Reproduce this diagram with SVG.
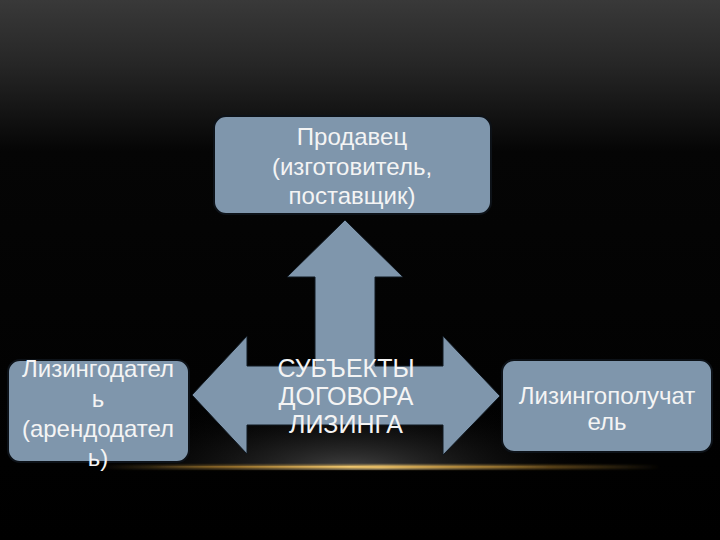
<svg xmlns="http://www.w3.org/2000/svg" width="720" height="540" viewBox="0 0 720 540">
  <defs>
    <linearGradient id="bg" x1="0" y1="0" x2="0" y2="1">
      <stop offset="0" stop-color="#393939"/>
      <stop offset="0.12" stop-color="#262626"/>
      <stop offset="0.28" stop-color="#050505"/>
      <stop offset="1" stop-color="#000"/>
    </linearGradient>
    <radialGradient id="spot" cx="350" cy="470" r="260" gradientUnits="userSpaceOnUse" gradientTransform="translate(350 470) scale(1 0.3) translate(-350 -470)">
      <stop offset="0" stop-color="#444" stop-opacity="1"/>
      <stop offset="1" stop-color="#000" stop-opacity="0"/>
    </radialGradient>
    <linearGradient id="gold" x1="0" y1="0" x2="1" y2="0">
      <stop offset="0" stop-color="#c89a40" stop-opacity="0"/>
      <stop offset="0.2" stop-color="#b8862e" stop-opacity="0.5"/>
      <stop offset="0.5" stop-color="#f0c870" stop-opacity="1"/>
      <stop offset="0.8" stop-color="#b8862e" stop-opacity="0.5"/>
      <stop offset="1" stop-color="#c89a40" stop-opacity="0"/>
    </linearGradient>
    <filter id="blur" x="-10%" y="-200%" width="120%" height="500%">
      <feGaussianBlur stdDeviation="1.2"/>
    </filter>
  </defs>
  <style>
    .box { fill: #7f96ac; stroke: #0d1218; stroke-width: 2; }
    .arrow { fill: #7f96ac; stroke: #101820; stroke-width: 1; }
    .t { font-family: "Liberation Sans", Arial, sans-serif; font-size: 24px; fill: #f4f4f4; text-anchor: middle; }
    .c { font-size: 25px; }
  </style>
  <rect width="720" height="540" fill="url(#bg)"/>
  <rect x="60" y="380" width="600" height="90" fill="url(#spot)"/>
  <rect x="100" y="465" width="560" height="4" fill="url(#gold)" filter="url(#blur)"/>
  <rect x="150" y="466" width="400" height="1.5" fill="url(#gold)"/>

  <g id="connectors">
    <polygon class="arrow" points="192,395 247,336 247,366 315,366 315,277 287,277 345,220 403,277 375,277 375,366 443,366 443,336 500,396 443,455 443,425 247,425 247,454"/>
  </g>

  <g id="center-label">
    <text class="t c" x="346" y="377">СУБЪЕКТЫ</text>
    <text class="t c" x="346" y="405">ДОГОВОРА</text>
    <text class="t c" x="346" y="433">ЛИЗИНГА</text>
  </g>

  <g id="seller">
    <rect class="box" x="214" y="116" width="277" height="98" rx="12"/>
    <text class="t" x="352" y="145">Продавец</text>
    <text class="t" x="352" y="175">(изготовитель,</text>
    <text class="t" x="352" y="204">поставщик)</text>
  </g>

  <g id="lessor">
    <rect class="box" x="8" y="360" width="181" height="102" rx="12"/>
    <text class="t" x="98" y="377">Лизингодател</text>
    <text class="t" x="98" y="407">ь</text>
    <text class="t" x="98" y="437">(арендодател</text>
    <text class="t" x="98" y="466">ь)</text>
  </g>

  <g id="lessee">
    <rect class="box" x="502" y="360" width="210" height="92" rx="12"/>
    <text class="t" x="607" y="404">Лизингополучат</text>
    <text class="t" x="607" y="430">ель</text>
  </g>
</svg>
